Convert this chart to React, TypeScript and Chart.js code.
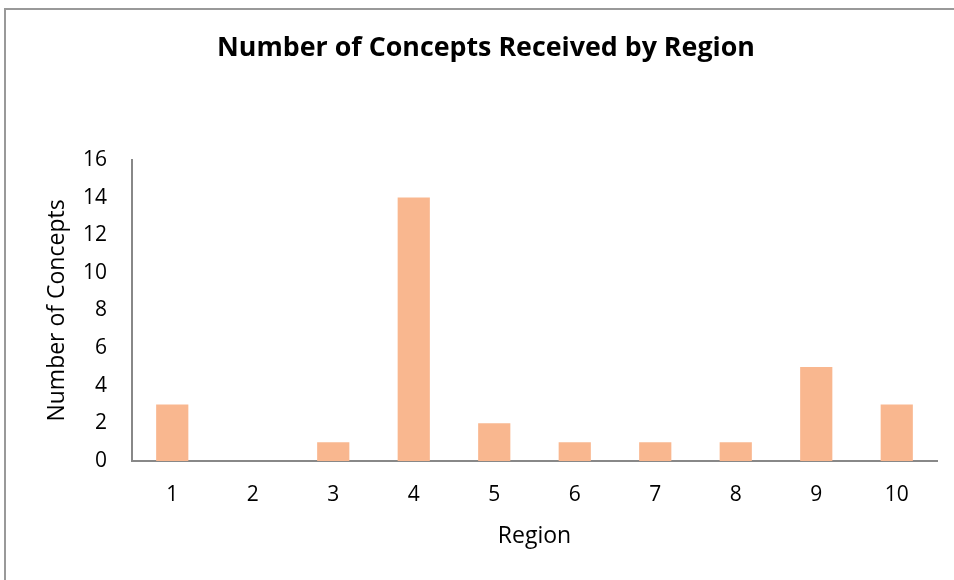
import React, { useEffect, useRef } from "react";
import { Chart, registerables } from "chart.js";

Chart.register(...registerables);

const categories = ["1", "2", "3", "4", "5", "6", "7", "8", "9", "10"];
const concepts = [3, 0, 1, 14, 2, 1, 1, 1, 5, 3];
const chartTitle = "Number of Concepts Received by Region";
const xTitle = "Region";
const yTitle = "Number of Concepts";

const FONT = "'Open Sans', 'Noto Sans', sans-serif";

export default function App() {
  const ref = useRef<HTMLCanvasElement | null>(null);

  useEffect(() => {
    if (!ref.current) return;
    const chart = new Chart(ref.current, {
      type: "bar",
      data: {
        labels: categories,
        datasets: [
          {
            data: concepts,
            backgroundColor: "rgb(249,183,143)",
            borderWidth: 0,
            categoryPercentage: 1,
            barPercentage: 0.4,
          },
        ],
      },
      options: {
        animation: false,
        responsive: false,
        maintainAspectRatio: false,
        layout: { padding: { left: 0, right: 17, top: 0, bottom: 0 } },
        plugins: {
          legend: { display: false },
          tooltip: { enabled: false },
          title: {
            display: true,
            text: chartTitle,
            color: "#000",
            font: { family: FONT, size: 26.8, weight: "bold" },
            padding: { top: 32, bottom: 95.8 },
          },
        },
        scales: {
          x: {
            grid: { display: false, drawTicks: false },
            border: { display: true, color: "#888", width: 2 },
            ticks: {
              color: "#000",
              font: { family: FONT, size: 21 },
              padding: 21,
              maxRotation: 0,
            },
            title: {
              display: true,
              text: xTitle,
              color: "#000",
              font: { family: FONT, size: 23 },
              padding: { top: 0, bottom: 30 },
            },
            afterFit: (s: any) => {
              s.height = 119;
            },
          },
          y: {
            min: 0,
            max: 16,
            grid: { display: false, drawTicks: false },
            border: { display: true, color: "#888", width: 2 },
            ticks: {
              stepSize: 2,
              color: "#000",
              font: { family: FONT, size: 21 },
              padding: 25,
            },
            title: {
              display: true,
              text: yTitle,
              color: "#000",
              font: { family: FONT, size: 23 },
              padding: { top: 9, bottom: 0 },
            },
            afterFit: (s: any) => {
              s.width = 97;
            },
          },
        },
      },
    });
    return () => chart.destroy();
  }, []);

  return (
    <div
      style={{
        position: "fixed",
        left: 0,
        top: 0,
        width: 954,
        height: 580,
        overflow: "hidden",
        background: "#fff",
      }}
    >
      <div
        style={{
          position: "absolute",
          left: 4,
          top: 8,
          width: 970,
          height: 600,
          border: "2px solid #999",
          boxSizing: "border-box",
        }}
      />
      <canvas
        ref={ref}
        width={919}
        height={580}
        style={{ position: "absolute", left: 35, top: 0, width: 919, height: 580 }}
      />
    </div>
  );
}
